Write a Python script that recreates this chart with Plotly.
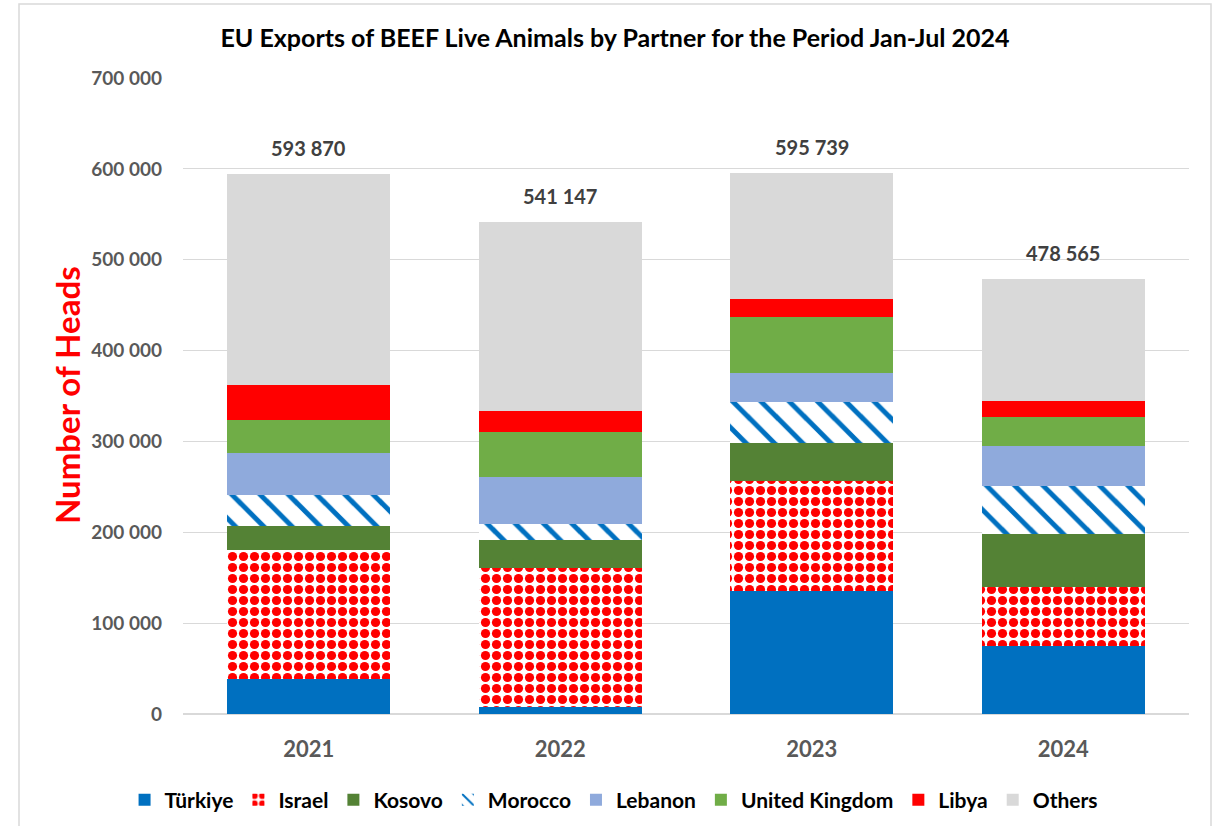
import plotly.graph_objects as go

years = ["2021", "2022", "2023", "2024"]
totals = [593870, 541147, 595739, 478565]

turkiye = [38300, 7700, 135900, 75300]
israel = [141700, 152900, 120600, 65000]
kosovo = [27300, 30900, 41500, 58200]
morocco = [33400, 18000, 45200, 52900]
lebanon = [46700, 51000, 32400, 44100]
united_kingdom = [36400, 50400, 61000, 31200]
libya = [38600, 23100, 20600, 17600]
others = [231470, 207147, 138539, 134265]

FONT = "Lato"

series = [
    ("Türkiye", turkiye, dict(color="#0070C0")),
    ("Israel", israel, dict(color="white", pattern=dict(shape=".", fgcolor="#FF0000", bgcolor="white",
                                                        size=11, solidity=0.55, fillmode="replace"))),
    ("Kosovo", kosovo, dict(color="#548235")),
    ("Morocco", morocco, dict(color="white", pattern=dict(shape="\\", fgcolor="#0070C0", bgcolor="white",
                                                          size=20, solidity=0.25, fillmode="replace"))),
    ("Lebanon", lebanon, dict(color="#8FAADC")),
    ("United Kingdom", united_kingdom, dict(color="#70AD47")),
    ("Libya", libya, dict(color="#FF0000")),
    ("Others", others, dict(color="#D9D9D9")),
]

fig = go.Figure()
for name, vals, marker in series:
    fig.add_trace(go.Bar(x=years, y=vals, name=name, marker=dict(line_width=0, **marker),
                         width=0.65))

# totals above each bar (category axis -> use the category index)
for i, t in enumerate(totals):
    fig.add_annotation(x=i, y=t, text=f"{t:,}".replace(",", " "), showarrow=False,
                       yanchor="bottom", yshift=12,
                       font=dict(family=FONT, size=20, color="#404040", weight="bold"))

# y axis title
fig.add_annotation(xref="paper", yref="paper", x=(67 - 183) / 1006, y=(714 - 395) / 636,
                   xanchor="center", yanchor="middle",
                   text="Number of Heads", textangle=-90, showarrow=False,
                   font=dict(family=FONT, size=33, color="#FF0000", weight="bold"))

# outer frame
fig.add_shape(type="rect", xref="paper", yref="paper",
              x0=(19 - 183) / 1006, x1=(1211 - 183) / 1006, y0=-0.3, y1=(714 - 4) / 636,
              line=dict(color="#D9D9D9", width=1.5), fillcolor="rgba(0,0,0,0)", layer="below")

fig.update_layout(
    width=1218, height=826,
    margin=dict(l=183, r=29, t=78, b=112, autoexpand=False),
    paper_bgcolor="white", plot_bgcolor="white",
    barmode="stack", bargap=0.35,
    separators=". ",
    title=dict(text="<b>EU Exports of BEEF Live Animals by Partner for the Period Jan-Jul 2024</b>",
               x=615 / 1218, xanchor="center", y=1 - 38 / 826, yanchor="middle",
               font=dict(family=FONT, size=25, color="black")),
    yaxis=dict(range=[0, 700000], dtick=100000, tickformat=",d", showgrid=True,
               gridcolor="#D9D9D9", gridwidth=1, zeroline=True, zerolinecolor="#D9D9D9",
               ticks="", ticklabelstandoff=20,
               tickfont=dict(family=FONT, size=19, color="#595959", weight="bold")),
    xaxis=dict(type="category", showline=True, linecolor="#D9D9D9", ticks="", ticklabelstandoff=16,
               tickfont=dict(family=FONT, size=22, color="#595959", weight="bold")),
    legend=dict(orientation="h", x=0.428, xanchor="center", y=-(800 - 714) / 636, yanchor="middle",
                traceorder="normal", font=dict(family=FONT, size=21, color="black", weight="bold"),
                itemwidth=30),
    showlegend=True,
)

fig.write_html("out.html", config={"displayModeBar": False},
               post_script="document.body.style.margin='0px';")
